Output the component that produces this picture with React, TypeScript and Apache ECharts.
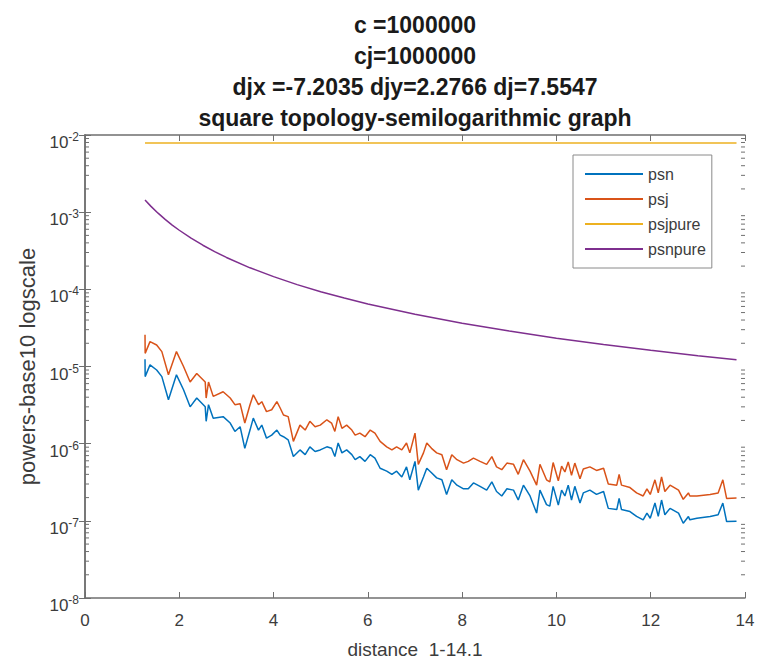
import React, { useEffect, useRef } from "react";
import * as echarts from "echarts";

const titleLines = [
  "c =1000000",
  "cj=1000000",
  "djx =-7.2035 djy=2.2766 dj=7.5547",
  "square topology-semilogarithmic graph",
];
const seriesNames = ["psn", "psj", "psjpure", "psnpure"];
const seriesColors = ["#0072BD", "#D95319", "#EDB120", "#7E2F8E"];
const xAxisName = "distance  1-14.1";
const yAxisName = "powers-base10 logscale";

const distance = [
  1.273, 1.276, 1.379, 1.52, 1.63, 1.77, 1.94, 2.09, 2.23, 2.37,
  2.55, 2.57, 2.62, 2.72, 2.93, 3.08, 3.18, 3.29, 3.39, 3.5,
  3.57, 3.68, 3.75, 3.85, 3.96, 4.07, 4.14, 4.21, 4.31, 4.42,
  4.56, 4.67, 4.77, 4.88, 4.99, 5.13, 5.23, 5.3, 5.37, 5.45,
  5.55, 5.66, 5.73, 5.83, 5.94, 6.05, 6.15, 6.26, 6.4, 6.51,
  6.61, 6.72, 6.82, 6.89, 7.0, 7.07, 7.18, 7.25, 7.35, 7.46,
  7.57, 7.67, 7.78, 7.89, 8.03, 8.13, 8.24, 8.38, 8.52, 8.63,
  8.73, 8.84, 8.95, 9.09, 9.19, 9.3, 9.44, 9.58, 9.65, 9.79,
  9.86,
  9.93, 10.04, 10.11, 10.18, 10.25, 10.32, 10.39, 10.5, 10.57, 10.71,
  10.85, 11.0, 11.1, 11.28, 11.33, 11.38, 11.56, 11.7, 11.84, 11.92,
  11.99, 12.09, 12.16, 12.23, 12.3, 12.41, 12.59, 12.69, 12.8, 12.83,
  12.98, 13.26, 13.43, 13.53, 13.61, 13.82,
];

const psn = [
  1.24e-5, 7.4e-6, 1.05e-5, 9.0e-6, 7.4e-6, 3.7e-6, 7.8e-6, 5.0e-6, 3.0e-6, 3.9e-6,
  3.0e-6, 1.95e-6, 3.2e-6, 2.14e-6, 2.24e-6, 1.85e-6, 1.44e-6, 1.66e-6, 8.7e-7, 1.5e-6,
  2.14e-6, 1.5e-6, 1.74e-6, 1.18e-6, 1.29e-6, 1.5e-6, 1.29e-6, 1.23e-6, 1.12e-6, 6.8e-7,
  8.3e-7, 7.2e-7, 9.1e-7, 7.9e-7, 8.3e-7, 9.1e-7, 8.7e-7, 6.8e-7, 1.02e-6, 7.6e-7,
  8.3e-7, 7.2e-7, 6.2e-7, 6.8e-7, 5.9e-7, 7.2e-7, 6.5e-7, 4.8e-7, 4.4e-7, 4.0e-7,
  4.4e-7, 3.7e-7, 5.0e-7, 3.4e-7, 5.9e-7, 2.5e-7, 3.7e-7, 4.8e-7, 4.2e-7, 3.6e-7,
  3.4e-7, 2.2e-7, 3.4e-7, 2.9e-7, 2.6e-7, 2.6e-7, 3.1e-7, 2.8e-7, 2.5e-7, 3.2e-7,
  2.4e-7, 2.1e-7, 2.6e-7, 2.5e-7, 1.86e-7, 2.9e-7, 2.1e-7, 1.26e-7, 2.5e-7, 1.62e-7,
  1.55e-7,
  2.8e-7, 1.6e-7, 2.5e-7, 2.1e-7, 2.9e-7, 1.86e-7, 2.8e-7, 1.7e-7, 2.3e-7, 2.5e-7,
  2.2e-7, 2.4e-7, 1.45e-7, 1.4e-7, 1.96e-7, 1.4e-7, 1.32e-7, 1.14e-7, 1.03e-7, 1.26e-7,
  1.08e-7, 1.7e-7, 1.14e-7, 1.86e-7, 1.2e-7, 1.45e-7, 1.26e-7, 9.3e-8, 1.14e-7, 1.03e-7,
  1.08e-7, 1.14e-7, 1.2e-7, 1.7e-7, 9.8e-8, 9.9e-8,
];

const psj = [
  2.57e-5, 1.48e-5, 2.1e-5, 1.9e-5, 1.56e-5, 7.8e-6, 1.56e-5, 1.0e-5, 6.3e-6, 8.1e-6,
  6.3e-6, 3.9e-6, 6.3e-6, 4.1e-6, 4.7e-6, 3.9e-6, 3.2e-6, 3.3e-6, 1.85e-6, 3.2e-6,
  4.3e-6, 3.2e-6, 3.5e-6, 2.6e-6, 2.75e-6, 3.5e-6, 2.9e-6, 2.35e-6, 2.24e-6, 1.07e-6,
  1.74e-6, 1.5e-6, 1.95e-6, 1.66e-6, 1.74e-6, 2.04e-6, 1.85e-6, 1.44e-6, 2.24e-6, 1.58e-6,
  1.74e-6, 1.5e-6, 1.29e-6, 1.37e-6, 1.23e-6, 1.5e-6, 1.37e-6, 1.07e-6, 9.1e-7, 8.3e-7,
  9.1e-7, 8.3e-7, 1.02e-6, 7.6e-7, 1.37e-6, 5.4e-7, 7.6e-7, 1.02e-6, 8.7e-7, 7.6e-7,
  7.2e-7, 4.6e-7, 7.2e-7, 6.2e-7, 5.6e-7, 5.9e-7, 6.5e-7, 5.9e-7, 5.4e-7, 6.8e-7,
  5.0e-7, 4.6e-7, 5.6e-7, 5.4e-7, 4.0e-7, 6.2e-7, 4.4e-7, 2.9e-7, 5.4e-7, 3.4e-7,
  3.2e-7,
  5.7e-7, 3.3e-7, 5.1e-7, 4.3e-7, 5.8e-7, 3.9e-7, 5.6e-7, 3.5e-7, 4.7e-7, 5.0e-7,
  4.5e-7, 4.8e-7, 3.0e-7, 2.9e-7, 4.0e-7, 2.9e-7, 2.7e-7, 2.3e-7, 2.1e-7, 2.6e-7,
  2.2e-7, 3.4e-7, 2.3e-7, 3.7e-7, 2.4e-7, 2.9e-7, 2.5e-7, 1.9e-7, 2.3e-7, 2.1e-7,
  2.1e-7, 2.2e-7, 2.3e-7, 3.4e-7, 1.95e-7, 1.97e-7,
];

const psjpureDistance = [1.273, 13.82];
const psjpure = [7.9e-3, 7.9e-3];

const pureDistance = [
  1.273, 1.4, 1.55, 1.7, 1.85, 2.0, 2.25, 2.5, 2.75, 3.0, 3.5, 4.0,
  4.5, 5.0, 5.5, 6.0, 7.0, 8.0, 9.0, 10.0, 11.0, 12.0, 13.0, 13.82,
];
const psnpure = [
  1.438e-3, 1.189e-3, 9.7e-4, 8.06e-4, 6.81e-4, 5.83e-4, 4.6e-4, 3.73e-4, 3.08e-4, 2.59e-4, 1.9e-4, 1.46e-4,
  1.15e-4, 9.32e-5, 7.7e-5, 6.47e-5, 4.76e-5, 3.64e-5, 2.88e-5, 2.33e-5, 1.93e-5, 1.62e-5, 1.38e-5, 1.22e-5,
];

const xMin = 0;
const xMax = 14;
const xInterval = 2;
const yMin = 1e-8;
const yMax = 1e-2;
const minorMultipliers = [2, 3, 4, 5, 6, 7, 8, 9];
const decadeExponents = [-8, -7, -6, -5, -4, -3];

const FONT = "'Liberation Sans', Arial, Helvetica, sans-serif";
const AXIS_COLOR = "#6f6f6f";
const TEXT_COLOR = "#3c3c3c";

const zip = (xs: number[], ys: number[]) => xs.map((x, i) => [x, ys[i]]);

export default function App() {
  const ref = useRef<HTMLDivElement>(null);
  useEffect(() => {
    if (!ref.current) return;
    const chart = echarts.init(ref.current, undefined, { renderer: "svg" });
    const minorTicks: number[][] = [];
    decadeExponents.forEach((e) =>
      minorMultipliers.forEach((m) => minorTicks.push([xMin, m * Math.pow(10, e)]))
    );
    const lineSeries = [
      { name: seriesNames[0], data: zip(distance, psn) },
      { name: seriesNames[1], data: zip(distance, psj) },
      { name: seriesNames[2], data: zip(psjpureDistance, psjpure) },
      { name: seriesNames[3], data: zip(pureDistance, psnpure) },
    ].map((s, i) => ({
      type: "line",
      name: s.name,
      data: s.data,
      showSymbol: false,
      symbol: "none",
      color: seriesColors[i],
      lineStyle: { color: seriesColors[i], width: 1.5 },
      z: 3,
    }));

    const ylabel = (v: number) => `{a|10}{b|${Math.round(Math.log10(v))}}`;

    chart.setOption({
      animation: false,
      textStyle: { fontFamily: FONT },
      graphic: titleLines.map((t, i) => ({
        type: "text",
        x: 415,
        y: 25 + i * 31,
        style: {
          text: t,
          fontFamily: FONT,
          fontSize: 23,
          fontWeight: "bold",
          fill: "#1a1a1a",
          align: "center",
          verticalAlign: "middle",
        },
      })),
      legend: {
        data: seriesNames,
        orient: "vertical",
        left: 573,
        top: 155,
        padding: [10, 6, 10, 12],
        itemWidth: 58,
        itemHeight: 2,
        itemGap: 7,
        icon: "rect",
        borderColor: "#8a8a8a",
        borderWidth: 1,
        backgroundColor: "#ffffff",
        textStyle: { fontFamily: FONT, fontSize: 16, color: TEXT_COLOR, lineHeight: 18 },
      },
      grid: { left: 85, right: 13, top: 135, bottom: 68, containLabel: false },
      xAxis: [
        {
          type: "value",
          min: xMin,
          max: xMax,
          interval: xInterval,
          name: xAxisName,
          nameLocation: "middle",
          nameGap: 42,
          nameTextStyle: { fontFamily: FONT, fontSize: 19, color: TEXT_COLOR },
          axisLine: { show: true, lineStyle: { color: AXIS_COLOR, width: 1.5 } },
          axisTick: { show: true, inside: true, length: 6, lineStyle: { color: AXIS_COLOR } },
          axisLabel: { fontFamily: FONT, fontSize: 17, color: TEXT_COLOR, margin: 14 },
          splitLine: { show: false },
        },
        {
          type: "value",
          position: "top",
          min: xMin,
          max: xMax,
          interval: xInterval,
          axisLine: { show: true, lineStyle: { color: AXIS_COLOR, width: 1.5 } },
          axisTick: { show: true, inside: true, length: 6, lineStyle: { color: AXIS_COLOR } },
          axisLabel: { show: false },
          splitLine: { show: false },
        },
      ],
      yAxis: [
        {
          type: "log",
          logBase: 10,
          min: yMin,
          max: yMax,
          interval: 1,
          name: yAxisName,
          nameLocation: "middle",
          nameGap: 46,
          nameTextStyle: { fontFamily: FONT, fontSize: 22, color: TEXT_COLOR },
          axisLine: { show: true, lineStyle: { color: AXIS_COLOR, width: 1.5 } },
          axisTick: { show: true, inside: true, length: 6, lineStyle: { color: AXIS_COLOR } },
          axisLabel: {
            margin: 6,
            formatter: ylabel,
            padding: [12, 0, 0, 0],
            rich: {
              a: { fontFamily: FONT, fontSize: 17, color: TEXT_COLOR, verticalAlign: "bottom", lineHeight: 20 },
              b: { fontFamily: FONT, fontSize: 12, color: TEXT_COLOR, verticalAlign: "top", lineHeight: 20 },
            },
          },
          splitLine: { show: false },
        },
        {
          type: "log",
          logBase: 10,
          position: "right",
          min: yMin,
          max: yMax,
          interval: 1,
          axisLine: { show: true, lineStyle: { color: AXIS_COLOR, width: 1.5 } },
          axisTick: { show: true, inside: true, length: 6, lineStyle: { color: AXIS_COLOR } },
          axisLabel: { show: false },
          splitLine: { show: false },
        },
      ],
      series: [
        ...lineSeries,
        {
          type: "custom",
          name: "minorTicks",
          silent: true,
          data: minorTicks,
          z: 2,
          renderItem: (_p: any, api: any) => {
            const v = api.value(1);
            const l = api.coord([xMin, v]);
            const r = api.coord([xMax, v]);
            return {
              type: "group",
              children: [
                { type: "line", shape: { x1: l[0], y1: l[1], x2: l[0] + 4, y2: l[1] }, style: { stroke: AXIS_COLOR, lineWidth: 1 } },
                { type: "line", shape: { x1: r[0], y1: r[1], x2: r[0] - 4, y2: r[1] }, style: { stroke: AXIS_COLOR, lineWidth: 1 } },
              ],
            };
          },
        },
      ],
    });
    return () => chart.dispose();
  }, []);
  return (
    <div
      ref={ref}
      style={{ position: "fixed", left: 0, top: 0, width: "758px", height: "666px", background: "#ffffff" }}
    />
  );
}
